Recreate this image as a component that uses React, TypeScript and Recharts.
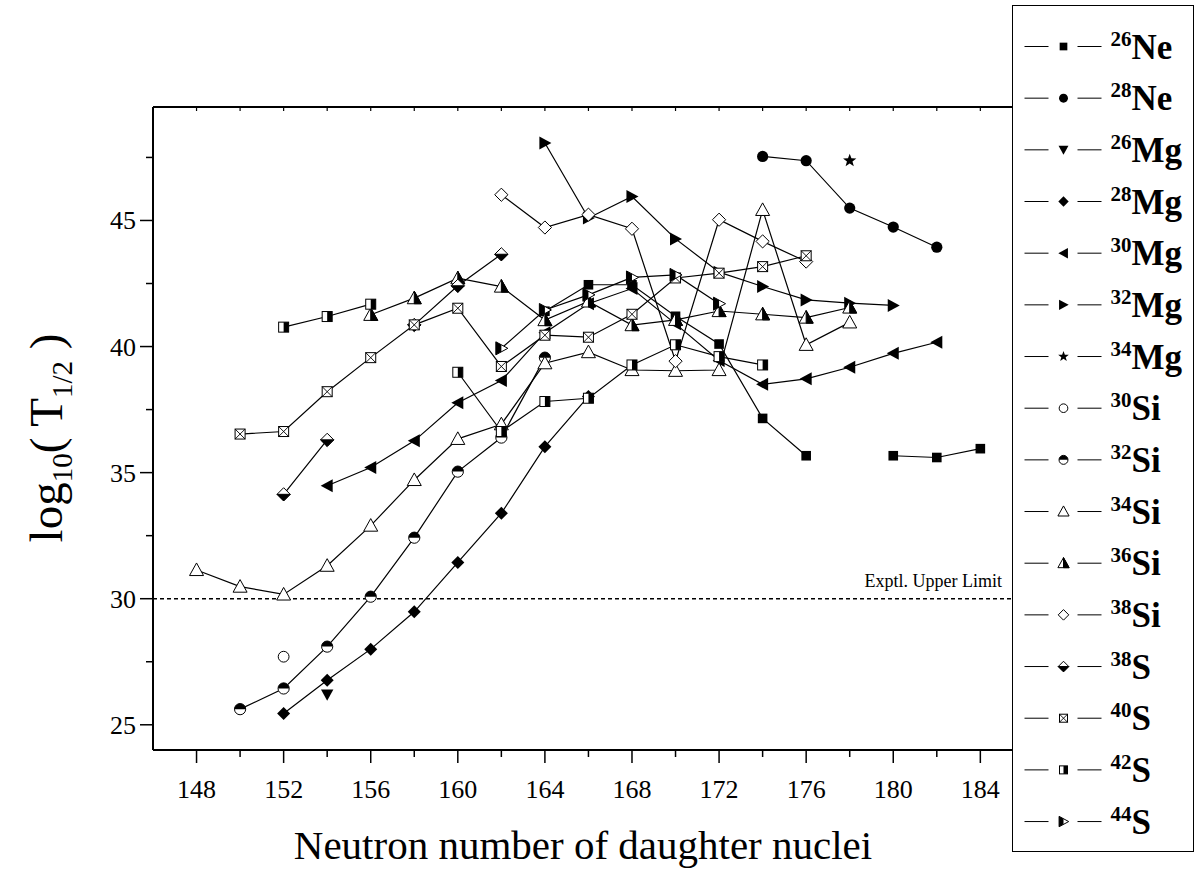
import React from "react";
import { LineChart, Line, XAxis, YAxis, ReferenceLine } from "recharts";

const SERIF = "'Liberation Serif', 'Times New Roman', serif";
const _ = null;

// neutron number of daughter nuclei (categories on the x axis)
const neutronN = [148, 150, 152, 154, 156, 158, 160, 162, 164, 166, 168, 170, 172, 174, 176, 178, 180, 182, 184];

// log10(T1/2) per emitted cluster, aligned with neutronN
const ne26 = [_, _, _, _, _, _, _, _, 41.4, 42.45, 42.45, 41.2, 40.1, 37.15, 35.67, _, 35.67, 35.6, 35.95];
const ne28 = [_, _, _, _, _, _, _, _, _, _, _, _, _, 47.54, 47.37, 45.49, 44.74, 43.94, _];
const mg26 = [_, _, _, 26.2, _, _, _, _, _, _, _, _, _, _, _, _, _, _, _];
const mg28 = [_, _, 25.45, 26.77, 28.0, 29.48, 31.44, 33.39, 36.03, 38.02, _, _, _, _, _, _, _, _, _];
const mg30 = [_, _, _, 34.48, 35.2, 36.26, 37.77, 38.65, 40.55, 41.7, 42.3, 40.9, 39.45, 38.5, 38.72, 39.18, 39.73, 40.17, _];
const mg32 = [_, _, _, _, _, _, _, _, 48.07, 45.1, 45.95, 44.27, 42.95, 42.38, 41.85, 41.72, 41.63, _, _];
const mg34 = [_, _, _, _, _, _, _, _, _, _, _, _, _, _, _, 47.37, _, _, _];
const si30 = [_, _, 27.7, _, _, _, _, _, _, _, _, _, _, _, _, _, _, _, _];
const si32 = [_, 25.62, 26.44, 28.1, 30.08, 32.42, 35.04, 36.39, 39.56, _, _, _, _, _, _, _, _, _, _];
const si34 = [31.14, 30.48, 30.17, 31.31, 32.9, 34.71, 36.34, 36.92, 39.34, 39.78, 39.07, 39.04, 39.07, 45.42, 40.07, 40.96, _, _, _];
const si36 = [_, _, _, _, 41.26, 41.92, 42.71, 42.38, 41.05, 41.79, 40.85, 41.06, 41.41, 41.28, 41.15, 41.55, _, _, _];
const si38 = [_, _, _, _, _, _, _, 46.02, 44.72, 45.23, 44.67, 39.42, 45.03, 44.17, 43.37, _, _, _, _];
const s38 = [_, _, 34.14, 36.3, _, 40.86, 42.41, 43.66, _, _, _, _, _, _, _, _, _, _, _];
const s40 = [_, 36.53, 36.63, 38.21, 39.56, 40.86, 41.52, 39.21, 40.45, 40.37, 41.28, 42.72, 42.91, 43.17, 43.6, _, _, _, _];
const s42 = [_, _, 40.77, 41.19, 41.68, _, 38.98, 36.63, 37.82, 37.95, 39.27, 40.07, 39.6, 39.27, _, _, _, _, _];
const s44 = [_, _, _, _, _, _, _, 39.93, 41.45, 42.05, 42.74, 42.84, 41.7, _, _, _, _, _, _];

const yTicks = [25, 27.5, 30, 32.5, 35, 37.5, 40, 42.5, 45, 47.5];
const upperLimit = 30;

type Kind =
  | "square" | "circle" | "down" | "diamond" | "left" | "right" | "star"
  | "ocircle" | "hcircle" | "up" | "hup" | "odiamond" | "hdiamond"
  | "xsquare" | "hsquare" | "hright";

const series: { key: string; mass: string; el: string; kind: Kind; values: (number | null)[] }[] = [
  { key: "ne26", mass: "26", el: "Ne", kind: "square", values: ne26 },
  { key: "ne28", mass: "28", el: "Ne", kind: "circle", values: ne28 },
  { key: "mg26", mass: "26", el: "Mg", kind: "down", values: mg26 },
  { key: "mg28", mass: "28", el: "Mg", kind: "diamond", values: mg28 },
  { key: "mg30", mass: "30", el: "Mg", kind: "left", values: mg30 },
  { key: "mg32", mass: "32", el: "Mg", kind: "right", values: mg32 },
  { key: "mg34", mass: "34", el: "Mg", kind: "star", values: mg34 },
  { key: "si30", mass: "30", el: "Si", kind: "ocircle", values: si30 },
  { key: "si32", mass: "32", el: "Si", kind: "hcircle", values: si32 },
  { key: "si34", mass: "34", el: "Si", kind: "up", values: si34 },
  { key: "si36", mass: "36", el: "Si", kind: "hup", values: si36 },
  { key: "si38", mass: "38", el: "Si", kind: "odiamond", values: si38 },
  { key: "s38", mass: "38", el: "S", kind: "hdiamond", values: s38 },
  { key: "s40", mass: "40", el: "S", kind: "xsquare", values: s40 },
  { key: "s42", mass: "42", el: "S", kind: "hsquare", values: s42 },
  { key: "s44", mass: "44", el: "S", kind: "hright", values: s44 },
];

const rows = neutronN.map((n, i) => {
  const row: Record<string, number | null> = { n };
  series.forEach((s) => (row[s.key] = s.values[i]));
  return row;
});

const pts = (a: number[][]) => a.map((p) => p.join(",")).join(" ");

function Marker({ kind, cx, cy, sc }: { kind: Kind; cx: number; cy: number; sc: number }) {
  const k = "#000";
  const w = "#fff";
  const sw = 1;
  switch (kind) {
    case "square": {
      const s = 4.8 * sc;
      return <rect x={cx - s} y={cy - s} width={2 * s} height={2 * s} fill={k} />;
    }
    case "circle":
      return <circle cx={cx} cy={cy} r={5.6 * sc} fill={k} />;
    case "down": {
      const s = 6.2 * sc;
      return <polygon points={pts([[cx - s, cy - s * 0.8], [cx + s, cy - s * 0.8], [cx, cy + s]])} fill={k} />;
    }
    case "diamond": {
      const s = 6.5 * sc;
      return <polygon points={pts([[cx, cy - s], [cx + s, cy], [cx, cy + s], [cx - s, cy]])} fill={k} />;
    }
    case "left": {
      const s = 6.5 * sc;
      return <polygon points={pts([[cx - s, cy], [cx + s * 0.85, cy - s], [cx + s * 0.85, cy + s]])} fill={k} />;
    }
    case "right": {
      const s = 6.5 * sc;
      return <polygon points={pts([[cx + s, cy], [cx - s * 0.85, cy - s], [cx - s * 0.85, cy + s]])} fill={k} />;
    }
    case "star": {
      const ro = 7 * sc;
      const ri = 2.9 * sc;
      const p: number[][] = [];
      for (let i = 0; i < 10; i++) {
        const a = -Math.PI / 2 + (i * Math.PI) / 5;
        const r = i % 2 === 0 ? ro : ri;
        p.push([cx + r * Math.cos(a), cy + r * Math.sin(a)]);
      }
      return <polygon points={pts(p)} fill={k} />;
    }
    case "ocircle":
      return <circle cx={cx} cy={cy} r={5.4 * sc} fill={w} stroke={k} strokeWidth={sw} />;
    case "hcircle": {
      const r = 5.6 * sc;
      return (
        <g>
          <circle cx={cx} cy={cy} r={r} fill={w} />
          <path d={`M${cx - r},${cy} A${r},${r} 0 0 1 ${cx + r},${cy} Z`} fill={k} />
          <circle cx={cx} cy={cy} r={r} fill="none" stroke={k} strokeWidth={sw} />
        </g>
      );
    }
    case "up": {
      const s = 7 * sc;
      return <polygon points={pts([[cx, cy - s], [cx + s, cy + s * 0.8], [cx - s, cy + s * 0.8]])} fill={w} stroke={k} strokeWidth={sw} />;
    }
    case "hup": {
      const s = 7 * sc;
      return (
        <g>
          <polygon points={pts([[cx, cy - s], [cx + s, cy + s * 0.8], [cx - s, cy + s * 0.8]])} fill={w} stroke={k} strokeWidth={sw} />
          <polygon points={pts([[cx, cy - s], [cx + s, cy + s * 0.8], [cx, cy + s * 0.8]])} fill={k} stroke={k} strokeWidth={sw} />
        </g>
      );
    }
    case "odiamond": {
      const s = 6.6 * sc;
      return <polygon points={pts([[cx, cy - s], [cx + s, cy], [cx, cy + s], [cx - s, cy]])} fill={w} stroke={k} strokeWidth={sw} />;
    }
    case "hdiamond": {
      const s = 6.6 * sc;
      return (
        <g>
          <polygon points={pts([[cx, cy - s], [cx + s, cy], [cx, cy + s], [cx - s, cy]])} fill={w} stroke={k} strokeWidth={sw} />
          <polygon points={pts([[cx - s, cy], [cx + s, cy], [cx, cy + s]])} fill={k} stroke={k} strokeWidth={sw} />
        </g>
      );
    }
    case "xsquare": {
      const s = 5 * sc;
      return (
        <g>
          <rect x={cx - s} y={cy - s} width={2 * s} height={2 * s} fill={w} stroke={k} strokeWidth={sw} />
          <path d={`M${cx - s},${cy - s} L${cx + s},${cy + s} M${cx + s},${cy - s} L${cx - s},${cy + s}`} stroke={k} strokeWidth={sw * 0.9} />
        </g>
      );
    }
    case "hsquare": {
      const s = 5 * sc;
      return (
        <g>
          <rect x={cx - s} y={cy - s} width={2 * s} height={2 * s} fill={w} stroke={k} strokeWidth={sw} />
          <rect x={cx} y={cy - s} width={s} height={2 * s} fill={k} />
        </g>
      );
    }
    case "hright": {
      const s = 6.5 * sc;
      const b = cx - s * 0.85;
      return (
        <g>
          <polygon points={pts([[cx + s, cy], [b, cy - s], [b, cy + s]])} fill={w} stroke={k} strokeWidth={sw} />
          <polygon points={pts([[b, cy - s], [cx, cy - s * 0.54], [cx, cy + s * 0.54], [b, cy + s]])} fill={k} />
        </g>
      );
    }
  }
  return null;
}

const makeDot = (kind: Kind) => (p: any) => {
  const key = `${kind}-${p.index}`;
  if (typeof p.cy !== "number" || !isFinite(p.cy) || p.value == null) return <g key={key} />;
  return (
    <g key={key}>
      <Marker kind={kind} cx={p.cx} cy={p.cy} sc={1} />
    </g>
  );
};

const BottomTick = (p: any) => {
  const v = p.payload.value;
  const major = (v - 148) % 4 === 0;
  return (
    <g>
      <line x1={p.x} y1={p.y} x2={p.x} y2={p.y + (major ? 13 : 7)} stroke="#000" strokeWidth={1.5} />
      {major && (
        <text x={p.x} y={p.y + 48} textAnchor="middle" fontFamily={SERIF} fontSize={26} fill="#000">
          {v}
        </text>
      )}
    </g>
  );
};

const TopTick = (p: any) => (
  <line x1={p.x} y1={p.y} x2={p.x} y2={p.y + 4} stroke="#000" strokeWidth={1.2} />
);

const LeftTick = (p: any) => {
  const v = p.payload.value;
  const major = v % 5 === 0;
  return (
    <g>
      <line x1={p.x} y1={p.y} x2={p.x - (major ? 13 : 7)} y2={p.y} stroke="#000" strokeWidth={1.5} />
      {major && (
        <text x={p.x - 17} y={p.y + 9} textAnchor="end" fontFamily={SERIF} fontSize={26} fill="#000">
          {v}
        </text>
      )}
    </g>
  );
};

const LimitLabel = (p: any) => {
  const vb = p.viewBox || {};
  return (
    <text x={vb.x + vb.width - 11} y={vb.y - 12} textAnchor="end" fontFamily={SERIF} fontSize={18} fill="#000">
      Exptl. Upper Limit
    </text>
  );
};

function LegendBox() {
  const left = 1013.5;
  const top = 6.5;
  return (
    <div
      style={{
        position: "absolute",
        left: 1012,
        top: 5,
        width: 180,
        height: 845,
        border: "1.5px solid #000",
        background: "#fff",
      }}
    >
      <svg width={180} height={845} style={{ display: "block" }}>
        {series.map((s, i) => {
          const cy = 47 + i * 51.67 - top;
          return (
            <g key={s.key}>
              <line x1={1025 - left} y1={cy} x2={1049 - left} y2={cy} stroke="#000" strokeWidth={1} />
              <line x1={1078 - left} y1={cy} x2={1102 - left} y2={cy} stroke="#000" strokeWidth={1} />
              <Marker kind={s.kind} cx={1064 - left} cy={cy} sc={0.8} />
              <text x={1111 - left} y={cy + 12} fontFamily={SERIF} fontWeight="bold" fill="#000">
                <tspan fontSize={21} dy={-13}>{s.mass}</tspan>
                <tspan fontSize={35} dy={13}>{s.el}</tspan>
              </text>
            </g>
          );
        })}
      </svg>
    </div>
  );
}

export default function App() {
  return (
    <div style={{ position: "absolute", left: 0, top: 0, width: 1198, height: 874, background: "#fff" }}>
      <LineChart width={1198} height={874} data={rows} margin={{ top: 106, right: 185, bottom: 64, left: 73 }}>
        <XAxis
          xAxisId="bottom"
          dataKey="n"
          type="number"
          domain={[146, 185.5]}
          allowDataOverflow
          ticks={neutronN}
          interval={0}
          height={60}
          tickSize={0}
          tickMargin={0}
          tickLine={false}
          tick={BottomTick}
          axisLine={{ stroke: "#000", strokeWidth: 2 }}
        />
        <XAxis
          xAxisId="top"
          orientation="top"
          dataKey="n"
          type="number"
          domain={[146, 185.5]}
          allowDataOverflow
          ticks={neutronN}
          interval={0}
          height={1}
          tickSize={0}
          tickMargin={0}
          tickLine={false}
          tick={TopTick}
          axisLine={{ stroke: "#000", strokeWidth: 2 }}
        />
        <YAxis
          yAxisId="left"
          type="number"
          domain={[24, 49.5]}
          allowDataOverflow
          ticks={yTicks}
          interval={0}
          width={80}
          tickSize={0}
          tickMargin={0}
          tickLine={false}
          tick={LeftTick}
          axisLine={{ stroke: "#000", strokeWidth: 2 }}
        />
        <ReferenceLine
          xAxisId="bottom"
          yAxisId="left"
          y={upperLimit}
          stroke="#000"
          strokeWidth={1.4}
          strokeDasharray="4 3"
          label={LimitLabel}
        />
        {series.map((s) => (
          <Line
            key={s.key}
            xAxisId="bottom"
            yAxisId="left"
            type="linear"
            dataKey={s.key}
            stroke="#000"
            strokeWidth={1.2}
            dot={makeDot(s.kind)}
            activeDot={false}
            isAnimationActive={false}
          />
        ))}
      </LineChart>
      <svg
        width={1198}
        height={874}
        style={{ position: "absolute", left: 0, top: 0, pointerEvents: "none" }}
      >
        <text x={583} y={859} textAnchor="middle" fontFamily={SERIF} fontSize={41} fill="#000">
          Neutron number of daughter nuclei
        </text>
        <text transform="translate(62, 438) rotate(-90)" textAnchor="middle" fontFamily={SERIF} fontSize={47} fill="#000">
          log
          <tspan fontSize={29} dy={10}>10</tspan>
          <tspan dy={-10}>{"( T"}</tspan>
          <tspan fontSize={29} dy={10}>1/2</tspan>
          <tspan dy={-10}>{" )"}</tspan>
        </text>
      </svg>
      <LegendBox />
    </div>
  );
}
